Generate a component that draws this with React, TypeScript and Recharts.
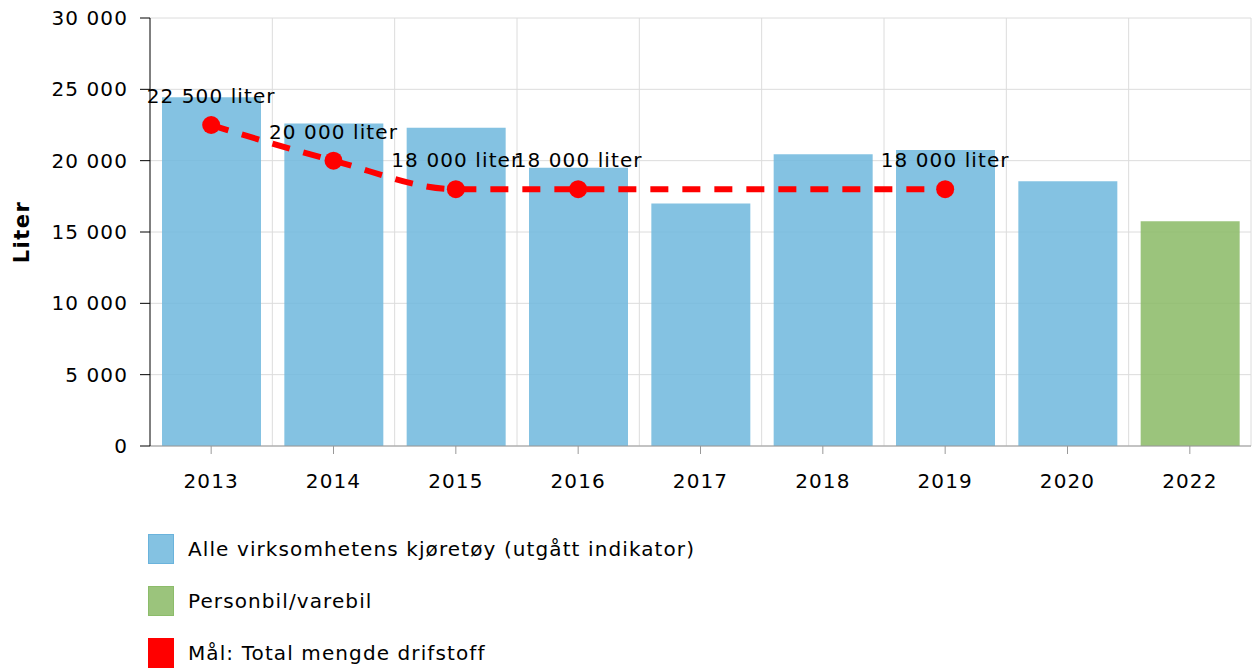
import React from "react";
import {
  Bar,
  CartesianGrid,
  ComposedChart,
  LabelList,
  Legend,
  Line,
  XAxis,
  YAxis,
} from "recharts";

const years = ["2013", "2014", "2015", "2016", "2017", "2018", "2019", "2020", "2022"];
const alleKjoretoy = [24450, 22600, 22300, 19500, 17000, 20450, 20750, 18550, null];
const personbil = [null, null, null, null, null, null, null, null, 15750];
const maal = [22500, 20000, 18000, 18000, null, null, 18000, null, null];
const yTicks = [0, 5000, 10000, 15000, 20000, 25000, 30000];

const BLUE = "#6eb7dd";
const GREEN = "#89ba65";
const RED = "#ff0000";
const FONT = "'DejaVu Sans', Verdana, sans-serif";
const SPACING = 1.1;

const data = years.map((year, i) => ({
  year,
  alle: alleKjoretoy[i],
  personbil: personbil[i],
  maal: maal[i],
}));

const fmt = (v: number) => String(v).replace(/\B(?=(\d{3})+(?!\d))/g, " ");

const legendItems = [
  { label: "Alle virksomhetens kjøretøy (utgått indikator)", fill: "#84c2e2", border: "#6ab3dc" },
  { label: "Personbil/varebil", fill: "#9bc47c", border: "#8cbc6a" },
  { label: "Mål: Total mengde drifstoff", fill: RED, border: RED },
];

function LegendList() {
  return (
    <div style={{ height: 170, paddingTop: 27, paddingLeft: 148, boxSizing: "border-box", overflow: "visible" }}>
      {legendItems.map((item) => (
        <div key={item.label} style={{ display: "flex", alignItems: "center", height: 52 }}>
          <span
            style={{
              width: 24,
              height: 28,
              background: item.fill,
              border: `1px solid ${item.border}`,
              marginRight: 14,
            }}
          />
          <span style={{ fontSize: 20, color: "#000", letterSpacing: SPACING }}>{item.label}</span>
        </div>
      ))}
    </div>
  );
}

function PointLabel(props: any) {
  const { x, y, value } = props;
  if (value == null) return null;
  return (
    <text
      x={x}
      y={y - 22}
      textAnchor="middle"
      fontSize={20}
      fill="#000"
      fontFamily={FONT}
      letterSpacing={SPACING}
    >
      {fmt(value)} liter
    </text>
  );
}

function YLabel(props: any) {
  const { viewBox } = props;
  const cx = 22;
  const cy = viewBox.y + viewBox.height / 2;
  return (
    <text
      x={cx}
      y={cy}
      transform={`rotate(-90 ${cx} ${cy})`}
      textAnchor="middle"
      dominantBaseline="central"
      fontSize={21}
      fontWeight="bold"
      fill="#000"
      fontFamily={FONT}
      letterSpacing={1.5}
    >
      Liter
    </text>
  );
}

export default function App() {
  return (
    <div style={{ position: "absolute", left: 0, top: 0, width: 1253, height: 668, fontFamily: FONT, background: "#fff" }}>
      <ComposedChart
        width={1253}
        height={668}
        data={data}
        margin={{ top: 18, right: 2, bottom: 2, left: 0 }}
        style={{ fontFamily: FONT }}
      >
        <CartesianGrid
          stroke="#dcdcdc"
          verticalCoordinatesGenerator={({ offset }: any) =>
            years.map((_, i) => offset.left + ((i + 1) * offset.width) / years.length)
          }
        />
        <XAxis
          dataKey="year"
          height={50}
          tickSize={8}
          tickMargin={20}
          stroke="#999"
          tick={{ fill: "#000", fontSize: 20, letterSpacing: SPACING }}
        />
        <YAxis
          width={150}
          domain={[0, 30000]}
          ticks={yTicks}
          tickFormatter={fmt}
          tickSize={10}
          tickMargin={12}
          stroke="#000"
          tick={{ fill: "#000", fontSize: 20, letterSpacing: SPACING }}
          label={<YLabel />}
        />
        <Legend verticalAlign="bottom" align="left" content={() => <LegendList />} wrapperStyle={{ left: 0, width: 1253 }} />
        <Bar dataKey="alle" stackId="a" barSize={99} fill={BLUE} fillOpacity={0.85} isAnimationActive={false} />
        <Bar dataKey="personbil" stackId="a" barSize={99} fill={GREEN} fillOpacity={0.85} isAnimationActive={false} />
        <Line
          dataKey="maal"
          type="monotone"
          stroke={RED}
          strokeWidth={6}
          strokeDasharray="18 14"
          connectNulls
          dot={{ r: 9, fill: RED, stroke: RED, strokeWidth: 0, strokeDasharray: "" }}
          activeDot={false}
          isAnimationActive={false}
        >
          <LabelList dataKey="maal" content={<PointLabel />} />
        </Line>
      </ComposedChart>
    </div>
  );
}
